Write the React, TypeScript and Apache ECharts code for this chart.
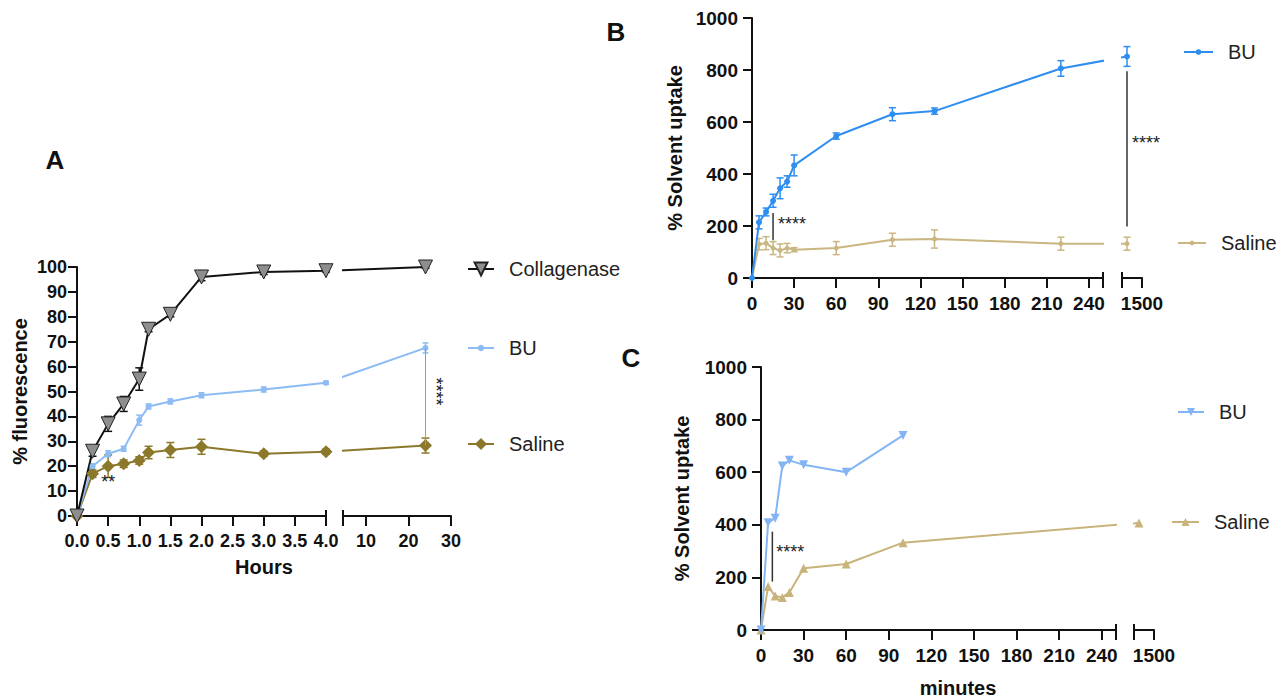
import React, { useEffect, useRef } from "react";
import * as echarts from "echarts";

// ---------- Panel A: % fluorescence vs hours ----------
const aHours = [0, 0.25, 0.5, 0.75, 1.0, 1.15, 1.5, 2.0, 3.0, 4.0, 24];
const aCollagenase = [0, 26, 37, 45, 55, 75, 81, 96, 98, 98.5, 100];
const aCollagenaseErr = [0, 2, 3, 3, 4.5, 1, 1, 1.5, 1, 0.5, 0.5];
const aBU = [0, 20, 25, 27, 38.5, 44, 46, 48.5, 50.8, 53.5, 67.5];
const aBUErr = [0, 1, 1.2, 1, 2, 1, 1, 1, 1, 0.6, 2];
const aSaline = [0, 17, 20, 21, 22.3, 25.5, 26.5, 27.8, 25, 25.8, 28.3];
const aSalineErr = [0, 1.5, 4.5, 1.5, 1.5, 2.5, 3, 3, 1, 1, 3];
const aHourTicks = [0, 0.5, 1, 1.5, 2, 2.5, 3, 3.5, 4];
const aHourTicksLate = [10, 20, 30];
const aSigPairs = [{ x: 24, from: 67.5, to: 28.3 }];
const aSigVertical = [{ x: 24, y: 50, text: "****" }];
const aSigFlat = [{ x: 0.5, y: 13.5, text: "**" }];

// ---------- Panel B: % solvent uptake vs minutes ----------
const bMinutes = [0, 5, 10, 15, 20, 25, 30, 60, 100, 130, 220, 1440];
const bBU = [0, 214, 254, 297, 345, 371, 433, 546, 630, 642, 806, 852];
const bBUErr = [0, 25, 15, 25, 40, 22, 40, 12, 25, 12, 30, 38];
const bSaline = [0, 130, 134, 115, 106, 115, 109, 115, 147, 150, 132, 132];
const bSalineErr = [0, 22, 25, 25, 25, 18, 8, 25, 25, 35, 25, 25];
const bSigPairs = [
  { x: 15, from: 250, to: 145 },
  { x: 1440, from: 795, to: 198 },
];
const bSigText = [
  { x: 15, y: 208, text: "****" },
  { x: 1440, y: 518, text: "****" },
];

// ---------- Panel C: % solvent uptake vs minutes ----------
const cMinutesBU = [0, 5, 10, 15, 20, 30, 60, 100];
const cBU = [0, 408, 425, 624, 645, 628, 600, 740];
const cMinutesSaline = [0, 5, 10, 15, 20, 30, 60, 100, 1440];
const cSaline = [0, 165, 129, 124, 143, 235, 251, 332, 407];
const cSigPairs = [{ x: 8, from: 374, to: 184 }];
const cSigText = [{ x: 8, y: 296, text: "****" }];

const minuteTicks = [0, 30, 60, 90, 120, 150, 180, 210, 240];
const minuteTicksLate = [1500];

// ---------- layout (broken x axes: two segments per panel) ----------
type Seg = { min: number; max: number; left: number; width: number };
type Layout = { top: number; height: number; yMax: number; segs: Seg[] };

const layoutA: Layout = {
  top: 267, height: 249, yMax: 100,
  segs: [
    { min: 0, max: 4, left: 77, width: 249 },
    { min: 4.6, max: 30, left: 343, width: 108 },
  ],
};
const layoutB: Layout = {
  top: 18, height: 260, yMax: 1000,
  segs: [
    { min: 0, max: 250, left: 752, width: 351 },
    { min: 1420, max: 1500, left: 1122, width: 20 },
  ],
};
const layoutC: Layout = {
  top: 367, height: 263, yMax: 1000,
  segs: [
    { min: 0, max: 250, left: 761, width: 355 },
    { min: 1420, max: 1500, left: 1134, width: 20 },
  ],
};

const FONT = '"Liberation Sans", Arial, Helvetica, sans-serif';
const INK = "#111111";

const segIndexOf = (L: Layout, x: number) =>
  L.segs.findIndex((s) => x >= s.min && x <= s.max);
const screenX = (L: Layout, x: number) => {
  const s = L.segs[segIndexOf(L, x)];
  return s.left + ((x - s.min) / (s.max - s.min)) * s.width;
};
// express a value of another segment in this segment's own axis units (broken-axis continuation)
const inSegUnits = (s: Seg, px: number) =>
  s.min + ((px - s.left) * (s.max - s.min)) / s.width;

function buildOption() {
  const grid: any[] = [];
  const xAxis: any[] = [];
  const markAxes: any[] = [];
  const yAxis: any[] = [];
  const series: any[] = [];
  const legend: any[] = [];

  function addPanel(
    L: Layout,
    tickLabels: number[][],
    fmt: ((v: number) => string)[],
    yInterval: number,
    yName: string,
    yNameGap: number,
    yLabelMargin: number,
    labelSize: number
  ) {
    const base = grid.length;
    L.segs.forEach((s, i) => {
      grid.push({
        left: s.left, top: L.top, width: s.width, height: L.height,
        containLabel: false, outerBoundsMode: "none",
      });
      const labels = tickLabels[i];
      const ticks = Array.from(
        new Set(i === 0 ? [...labels, s.max] : [s.min, ...labels])
      );
      xAxis.push({
        type: "value", gridIndex: base + i, min: s.min, max: s.max, position: "bottom",
        axisLine: { show: true, onZero: false, lineStyle: { color: INK, width: 2 } },
        axisTick: { show: true, length: 10, customValues: ticks, lineStyle: { color: INK, width: 2 } },
        axisLabel: {
          show: true, customValues: labels, margin: 16, formatter: fmt[i],
          color: INK, fontSize: labelSize, fontWeight: "bold", fontFamily: FONT,
          hideOverlap: false,
        },
        splitLine: { show: false },
      });
      markAxes.push({
        type: "value", gridIndex: base + i, min: s.min, max: s.max, position: "bottom",
        axisLine: { show: false, onZero: false },
        axisTick: {
          show: true, inside: true, length: 6,
          customValues: [i === 0 ? s.max : s.min],
          lineStyle: { color: INK, width: 2 },
        },
        axisLabel: { show: false },
        splitLine: { show: false },
      });
      yAxis.push({
        type: "value", gridIndex: base + i, min: 0, max: L.yMax, interval: yInterval,
        show: i === 0,
        name: i === 0 ? yName : "",
        nameLocation: "middle", nameGap: yNameGap,
        nameTextStyle: { fontSize: 20, fontWeight: "bold", fontFamily: FONT, color: INK },
        axisLine: { show: true, lineStyle: { color: INK, width: 2 } },
        axisTick: { show: true, length: 9, lineStyle: { color: INK, width: 2 } },
        axisLabel: {
          margin: yLabelMargin, color: INK, fontSize: labelSize, fontWeight: "bold", fontFamily: FONT,
          formatter: (v: number) => String(v),
        },
        splitLine: { show: false },
      });
    });
    return base;
  }

  function addLine(L: Layout, base: number, name: string, xs: number[], ys: number[], st: any) {
    L.segs.forEach((s, i) => {
      series.push({
        type: "line", name, xAxisIndex: base + i, yAxisIndex: base + i,
        clip: true, z: 3, silent: true,
        data: xs.map((x, k) => [inSegUnits(s, screenX(L, x)), ys[k]]),
        symbol: st.symbol, symbolSize: st.size, symbolRotate: st.rotate || 0,
        showSymbol: true,
        lineStyle: { color: st.line, width: st.width },
        itemStyle: { color: st.fill, borderColor: st.border, borderWidth: st.borderWidth || 0 },
        emphasis: { disabled: true },
      });
    });
  }

  function addErr(L: Layout, base: number, xs: number[], ys: number[], es: number[], color: string, cap: number) {
    L.segs.forEach((s, i) => {
      const data = xs
        .map((x, k) => [x, ys[k], es[k]])
        .filter((d) => segIndexOf(L, d[0]) === i && d[2] > 0);
      series.push({
        type: "custom", xAxisIndex: base + i, yAxisIndex: base + i, z: 2, silent: true,
        data,
        renderItem: (_p: any, api: any) => {
          const x = api.value(0), y = api.value(1), e = api.value(2);
          const hi = api.coord([x, y + e]);
          const lo = api.coord([x, y - e]);
          const style = { stroke: color, lineWidth: 1.5 };
          return {
            type: "group",
            children: [
              { type: "line", shape: { x1: hi[0], y1: hi[1], x2: lo[0], y2: lo[1] }, style },
              { type: "line", shape: { x1: hi[0] - cap, y1: hi[1], x2: hi[0] + cap, y2: hi[1] }, style },
              { type: "line", shape: { x1: lo[0] - cap, y1: lo[1], x2: lo[0] + cap, y2: lo[1] }, style },
            ],
          };
        },
      });
    });
  }

  function addSigLines(L: Layout, base: number, pairs: { x: number; from: number; to: number }[], color: string, width: number) {
    L.segs.forEach((_s, i) => {
      const data = pairs.filter((p) => segIndexOf(L, p.x) === i).map((p) => [p.x, p.from, p.to]);
      if (!data.length) return;
      series.push({
        type: "custom", xAxisIndex: base + i, yAxisIndex: base + i, z: 4, silent: true,
        data,
        renderItem: (_p: any, api: any) => {
          const a = api.coord([api.value(0), api.value(1)]);
          const b = api.coord([api.value(0), api.value(2)]);
          return { type: "line", shape: { x1: a[0], y1: a[1], x2: b[0], y2: b[1] }, style: { stroke: color, lineWidth: width } };
        },
      });
    });
  }

  function addSigText(L: Layout, base: number, items: { x: number; y: number; text: string }[], dx: number, rotate: number, align: string, size: number) {
    L.segs.forEach((_s, i) => {
      const list = items.filter((p) => segIndexOf(L, p.x) === i);
      if (!list.length) return;
      series.push({
        type: "custom", xAxisIndex: base + i, yAxisIndex: base + i, z: 5, silent: true,
        data: list.map((p) => [p.x, p.y]),
        renderItem: (params: any, api: any) => {
          const c = api.coord([api.value(0), api.value(1)]);
          return {
            type: "text", x: c[0] + dx, y: c[1], rotation: rotate,
            style: {
              text: list[params.dataIndex].text, fill: "#222222", fontSize: size,
              fontFamily: FONT, align, verticalAlign: "middle",
            },
          };
        },
      });
    });
  }

  function addLegend(name: string, left: number, cy: number, itemWidth: number, itemHeight: number) {
    legend.push({
      data: [name], left, top: cy - 10, padding: 0, orient: "horizontal",
      itemWidth, itemHeight, itemGap: 0, selectedMode: false,
      formatter: (n: string) => n.split(":")[1],
      textStyle: { fontSize: 20, fontFamily: FONT, color: "#222", lineHeight: 20, padding: [0, 0, 0, 10] },
    });
  }

  // Panel A
  const a = addPanel(
    layoutA, [aHourTicks, aHourTicksLate],
    [(v) => v.toFixed(1), (v) => String(v)],
    10, "% fluorescence", 47, 10, 18
  );
  addErr(layoutA, a, aHours, aSaline, aSalineErr, "#8b782a", 4);
  addErr(layoutA, a, aHours, aBU, aBUErr, "#8dbbf4", 3);
  addErr(layoutA, a, aHours, aCollagenase, aCollagenaseErr, "#111", 4);
  addLine(layoutA, a, "A:Saline", aHours, aSaline, { symbol: "diamond", size: 13, line: "#8b782a", fill: "#8b782a", width: 2 });
  addLine(layoutA, a, "A:BU", aHours, aBU, { symbol: "circle", size: 6, line: "#8dbbf4", fill: "#8dbbf4", width: 2 });
  addLine(layoutA, a, "A:Collagenase", aHours, aCollagenase, { symbol: "triangle", rotate: 180, size: 14, line: "#111", fill: "#8e8e8e", border: "#222", borderWidth: 1, width: 2 });
  addSigLines(layoutA, a, aSigPairs, "#9a9a9a", 1);
  addSigText(layoutA, a, aSigVertical, 11, -Math.PI / 2, "center", 18);
  addSigText(layoutA, a, aSigFlat, 0, 0, "center", 18);
  addLegend("A:Collagenase", 467, 269, 26, 16);
  addLegend("A:BU", 467, 348, 26, 8);
  addLegend("A:Saline", 467, 444, 26, 15);

  // Panel B
  const b = addPanel(
    layoutB, [minuteTicks, minuteTicksLate],
    [(v) => String(v), (v) => String(v)],
    200, "% Solvent uptake", 67, 14, 19
  );
  addErr(layoutB, b, bMinutes, bSaline, bSalineErr, "#c9b680", 3.5);
  addErr(layoutB, b, bMinutes, bBU, bBUErr, "#2e8ef0", 3.5);
  addLine(layoutB, b, "B:Saline", bMinutes, bSaline, { symbol: "circle", size: 5, line: "#c9b680", fill: "#c9b680", width: 2 });
  addLine(layoutB, b, "B:BU", bMinutes, bBU, { symbol: "circle", size: 6, line: "#2e8ef0", fill: "#2e8ef0", width: 2 });
  addSigLines(layoutB, b, bSigPairs, "#333", 1.5);
  addSigText(layoutB, b, bSigText, 5, 0, "left", 18);
  addLegend("B:BU", 1183, 52, 29, 7);
  addLegend("B:Saline", 1177, 243, 28, 6);

  // Panel C
  const c = addPanel(
    layoutC, [minuteTicks, minuteTicksLate],
    [(v) => String(v), (v) => String(v)],
    200, "% Solvent uptake", 69, 14, 19
  );
  addLine(layoutC, c, "C:Saline", cMinutesSaline, cSaline, { symbol: "triangle", size: 9, line: "#c8b47a", fill: "#c8b47a", width: 2 });
  addLine(layoutC, c, "C:BU", cMinutesBU, cBU, { symbol: "triangle", rotate: 180, size: 9, line: "#83b5f6", fill: "#83b5f6", width: 2 });
  addSigLines(layoutC, c, cSigPairs, "#333", 1.5);
  addSigText(layoutC, c, cSigText, 4, 0, "left", 18);
  addLegend("C:BU", 1177, 412, 26, 10);
  addLegend("C:Saline", 1171, 522, 27, 10);

  const title = (text: string, x: number, y: number, size: number) => ({
    type: "text", x, y, silent: true,
    style: { text, fill: INK, font: `bold ${size}px ${FONT}`, align: "center", verticalAlign: "middle" },
  });

  return {
    animation: false,
    backgroundColor: "#ffffff",
    grid,
    xAxis: [...xAxis, ...markAxes],
    yAxis,
    legend,
    series,
    graphic: [
      title("A", 55, 160, 26),
      title("B", 616, 32, 26),
      title("C", 631, 358, 26),
      title("Hours", 264, 567, 20),
      title("minutes", 958, 688, 20),
    ],
  };
}

export default function App() {
  const ref = useRef<HTMLDivElement>(null);
  useEffect(() => {
    if (!ref.current) return;
    const chart = echarts.init(ref.current, null, { renderer: "svg" });
    chart.setOption(buildOption() as any);
    return () => chart.dispose();
  }, []);
  return (
    <div
      ref={ref}
      style={{ position: "fixed", left: 0, top: 0, width: 1279, height: 698, background: "#fff" }}
    />
  );
}
